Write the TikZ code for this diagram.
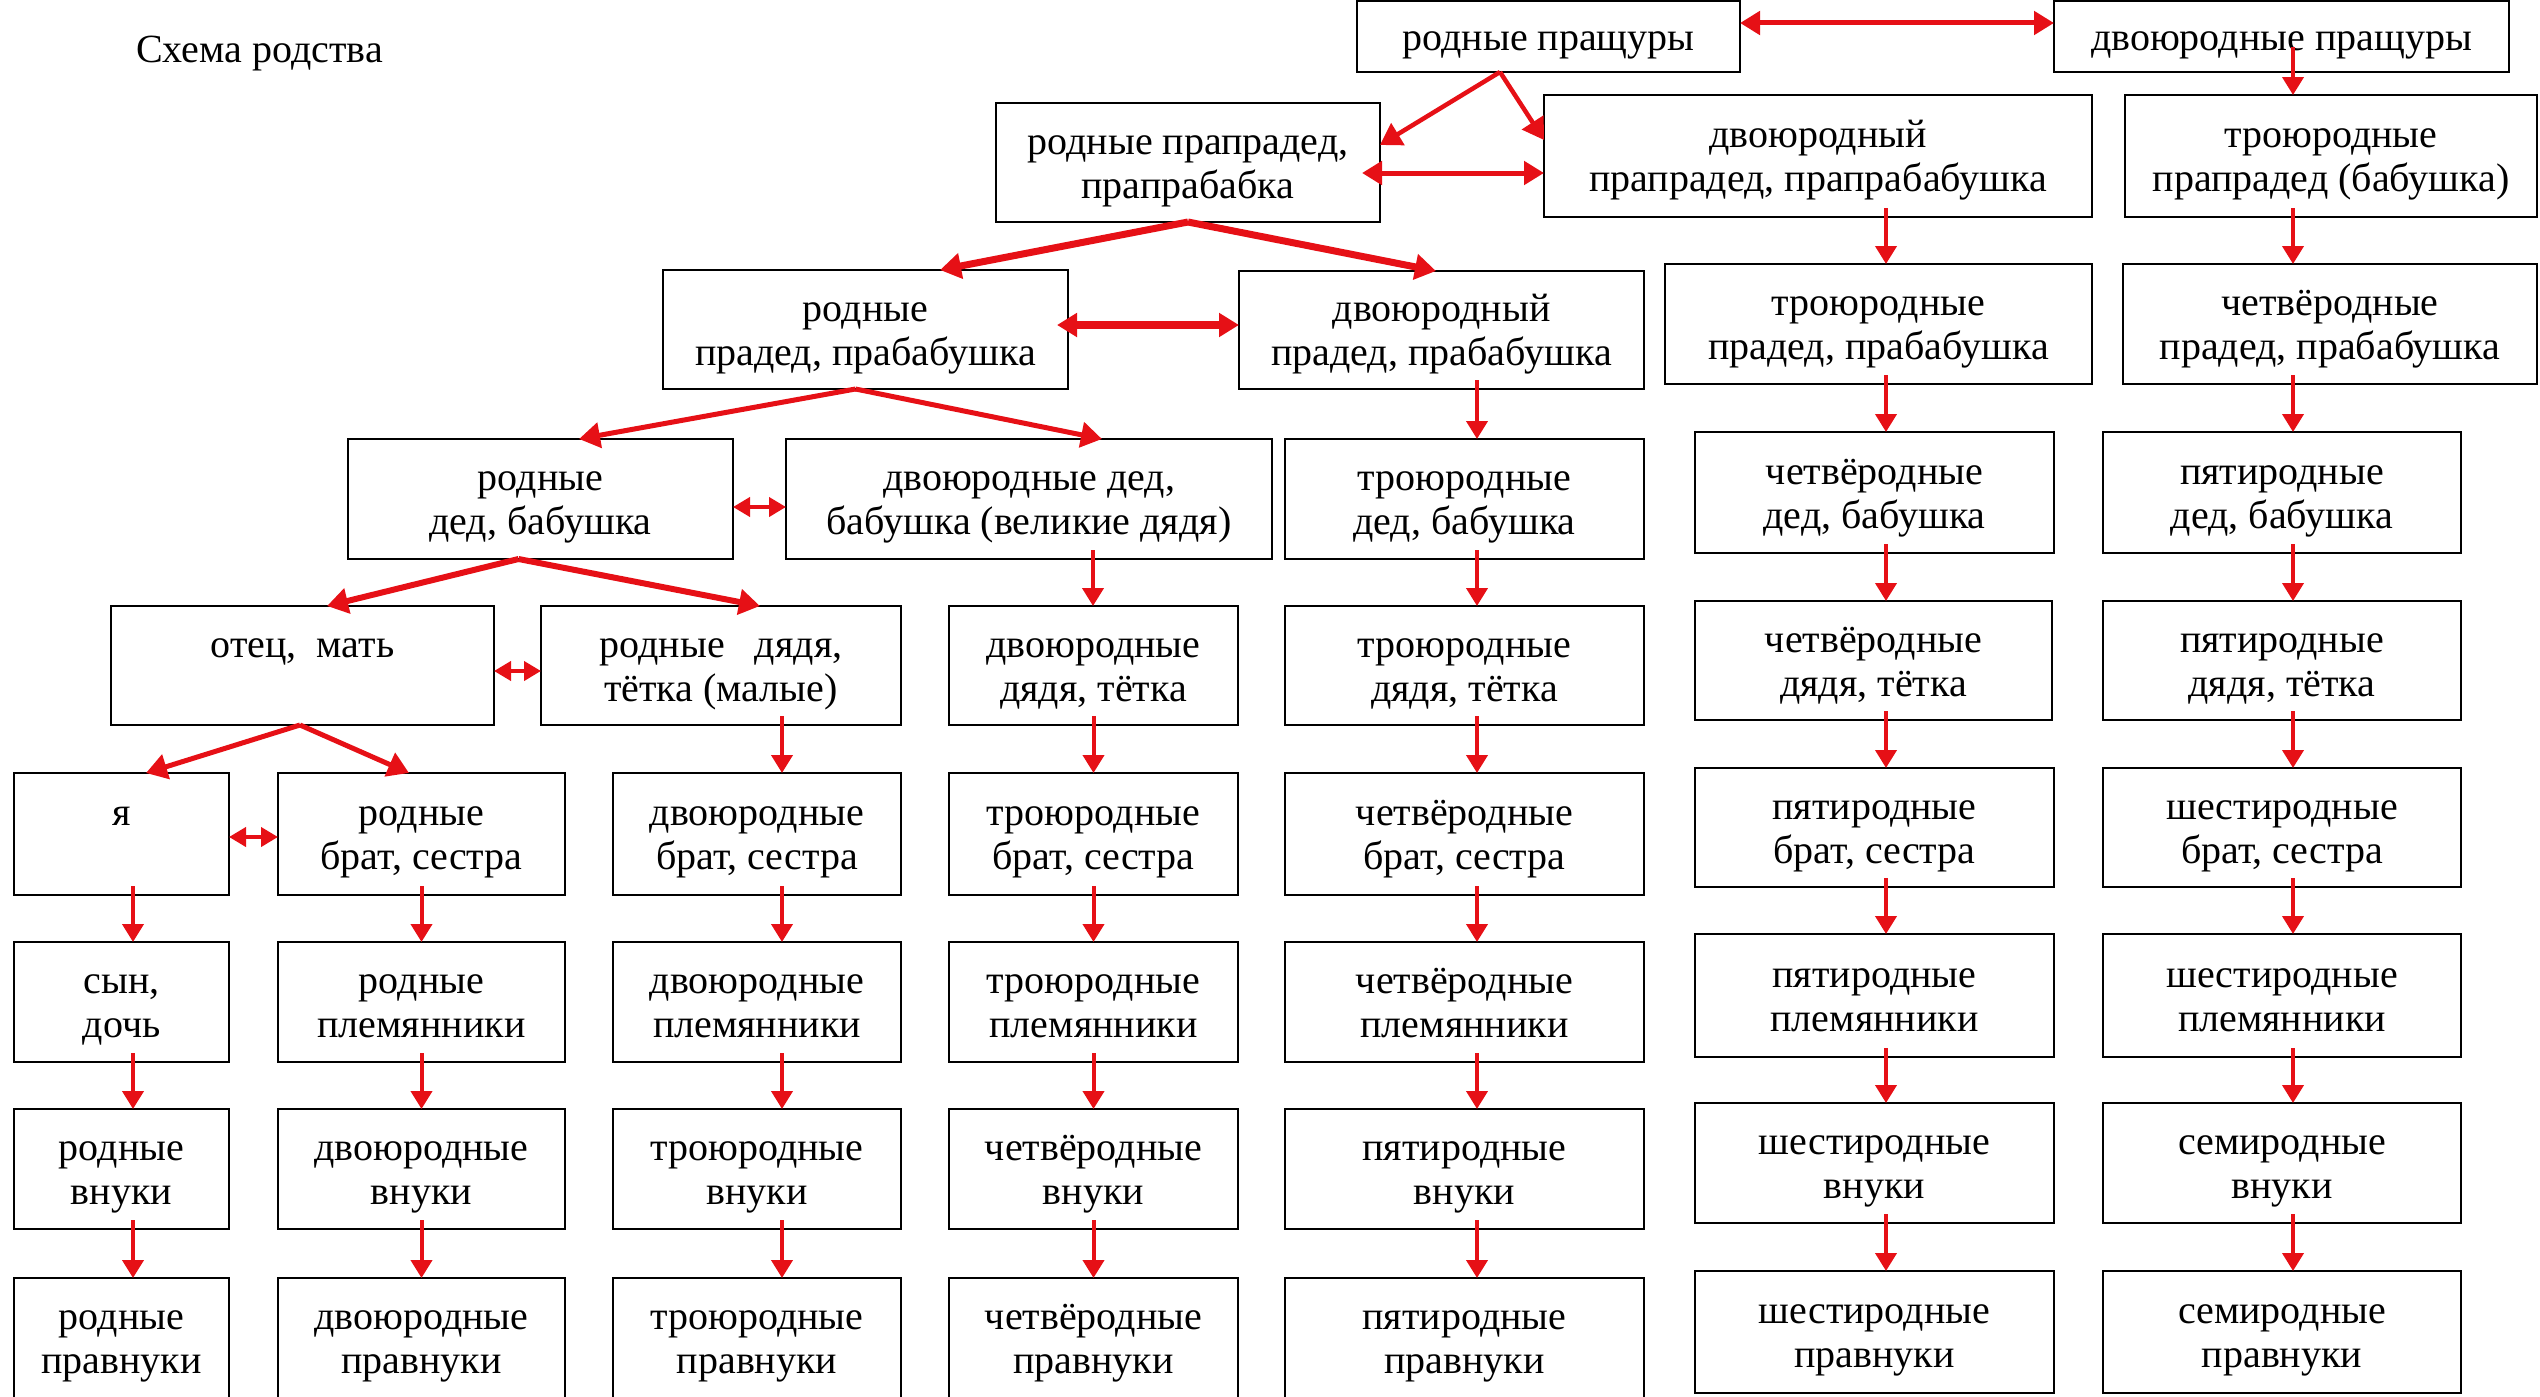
\documentclass[tikz,border=0pt]{standalone}
\usepackage{fontspec}
\setmainfont{Liberation Serif}
\usetikzlibrary{arrows.meta,calc}
\definecolor{arrred}{RGB}{230,16,22}
\tikzset{
  box/.style={draw=black, line width=2.5pt, rectangle, inner sep=0pt, outer sep=0pt},
  txt/.style={align=center, font=\fontsize{40}{44}\selectfont, inner sep=0pt, outer sep=0pt},
  varr/.style={draw=arrred, line width=4pt, shorten <=-9pt, -{Triangle[length=18pt,width=21pt]}},
  darr/.style={draw=arrred, line width=#1, -{Triangle[length=21pt,width=25pt]}},
  dbl/.style={draw=arrred, line width=#1, {Triangle[length=20pt,width=23pt]}-{Triangle[length=20pt,width=23pt]}},
  sdbl/.style={draw=arrred, line width=4pt, {Triangle[length=17pt,width=19pt]}-{Triangle[length=17pt,width=19pt]}}
}
\newcommand{\bx}[6]{%
  \node[box, anchor=north west, minimum width={#4pt-#2pt}, minimum height={#5pt-#3pt}] (#1) at (#2,#3) {};
  \node[txt] (#1t) at ([yshift=-5pt]#1.center) {#6};
}
\newcommand{\tl}[2]{\strut#1\\\strut#2}
\newcommand{\va}[3]{%
  \path ([xshift=#3pt]#1.south) coordinate (#1-#2-s);
  \draw[varr] (#1-#2-s) -- (#1-#2-s |- #2.north);
}
\begin{document}
\begin{tikzpicture}[x=1pt,y=-1pt]
\useasboundingbox (0,0) rectangle (2540,1397);
\node[txt, anchor=base west] (title) at (136,63) {Схема родства};

% row 0
\bx{p1}{1357}{1}{1740}{72}{\strut родные пращуры}
\bx{p2}{2054}{1}{2509}{72}{\strut двоюродные пращуры}
% row 1
\bx{pp1}{996}{103}{1380}{222}{\tl{родные прапрадед,}{прапрабабка}}
\bx{pp2}{1544}{95}{2092}{217}{\tl{двоюродный}{прапрадед, прапрабабушка}}
\bx{pp3}{2125}{95}{2537}{217}{\tl{троюродные}{прапрадед (бабушка)}}
% row 2
\bx{r2a}{663}{270}{1068}{389}{\tl{родные}{прадед, прабабушка}}
\bx{r2b}{1239}{271}{1644}{389}{\tl{двоюродный}{прадед, прабабушка}}
\bx{r2c}{1665}{264}{2092}{384}{\tl{троюродные}{прадед, прабабушка}}
\bx{r2d}{2123}{264}{2537}{384}{\tl{четвёродные}{прадед, прабабушка}}
% row 3
\bx{r3a}{348}{439}{733}{559}{\tl{родные}{дед, бабушка}}
\bx{r3b}{786}{439}{1272}{559}{\tl{двоюродные дед,}{бабушка (великие дядя)}}
\bx{r3c}{1285}{439}{1644}{559}{\tl{троюродные}{дед, бабушка}}
\bx{r3d}{1695}{432}{2054}{553}{\tl{четвёродные}{дед, бабушка}}
\bx{r3e}{2103}{432}{2461}{553}{\tl{пятиродные}{дед, бабушка}}
% row 4
\bx{r4a}{111}{606}{494}{725}{\tl{отец,\ \ мать}{}}
\bx{r4b}{541}{606}{901}{725}{\tl{родные\ \ \ дядя,}{тётка (малые)}}
\bx{r4c}{949}{606}{1238}{725}{\tl{двоюродные}{дядя, тётка}}
\bx{r4d}{1285}{606}{1644}{725}{\tl{троюродные}{дядя, тётка}}
\bx{r4e}{1695}{601}{2052}{720}{\tl{четвёродные}{дядя, тётка}}
\bx{r4f}{2103}{601}{2461}{720}{\tl{пятиродные}{дядя, тётка}}
% row 5
\bx{r5a}{14}{773}{229}{895}{\tl{я}{}}
\bx{r5b}{278}{773}{565}{895}{\tl{родные}{брат, сестра}}
\bx{r5c}{613}{773}{901}{895}{\tl{двоюродные}{брат, сестра}}
\bx{r5d}{949}{773}{1238}{895}{\tl{троюродные}{брат, сестра}}
\bx{r5e}{1285}{773}{1644}{895}{\tl{четвёродные}{брат, сестра}}
\bx{r5f}{1695}{768}{2054}{887}{\tl{пятиродные}{брат, сестра}}
\bx{r5g}{2103}{768}{2461}{887}{\tl{шестиродные}{брат, сестра}}
% row 6
\bx{r6a}{14}{942}{229}{1062}{\tl{сын,}{дочь}}
\bx{r6b}{278}{942}{565}{1062}{\tl{родные}{племянники}}
\bx{r6c}{613}{942}{901}{1062}{\tl{двоюродные}{племянники}}
\bx{r6d}{949}{942}{1238}{1062}{\tl{троюродные}{племянники}}
\bx{r6e}{1285}{942}{1644}{1062}{\tl{четвёродные}{племянники}}
\bx{r6f}{1695}{934}{2054}{1057}{\tl{пятиродные}{племянники}}
\bx{r6g}{2103}{934}{2461}{1057}{\tl{шестиродные}{племянники}}
% row 7
\bx{r7a}{14}{1109}{229}{1229}{\tl{родные}{внуки}}
\bx{r7b}{278}{1109}{565}{1229}{\tl{двоюродные}{внуки}}
\bx{r7c}{613}{1109}{901}{1229}{\tl{троюродные}{внуки}}
\bx{r7d}{949}{1109}{1238}{1229}{\tl{четвёродные}{внуки}}
\bx{r7e}{1285}{1109}{1644}{1229}{\tl{пятиродные}{внуки}}
\bx{r7f}{1695}{1103}{2054}{1223}{\tl{шестиродные}{внуки}}
\bx{r7g}{2103}{1103}{2461}{1223}{\tl{семиродные}{внуки}}
% row 8
\bx{r8a}{14}{1278}{229}{1398}{\tl{родные}{правнуки}}
\bx{r8b}{278}{1278}{565}{1398}{\tl{двоюродные}{правнуки}}
\bx{r8c}{613}{1278}{901}{1398}{\tl{троюродные}{правнуки}}
\bx{r8d}{949}{1278}{1238}{1398}{\tl{четвёродные}{правнуки}}
\bx{r8e}{1285}{1278}{1644}{1398}{\tl{пятиродные}{правнуки}}
\bx{r8f}{1695}{1271}{2054}{1393}{\tl{шестиродные}{правнуки}}
\bx{r8g}{2103}{1271}{2461}{1393}{\tl{семиродные}{правнуки}}

% ---- connectors ----
% top
\path ([yshift=13.5pt]p1.east) coordinate (c01);
\draw[dbl=5pt] (c01) -- (c01 -| p2.west);
\path ([xshift=11.5pt]p2.south) coordinate (c02);
\draw[varr, shorten <=-25pt] (c02) -- (c02 |- pp3.north);
\path ([xshift=-48.5pt]p1.south) coordinate (c03);
\draw[darr=4.5pt] (c03) -- ([yshift=17.5pt]pp1.east);
\draw[darr=4.5pt] (c03) -- ([yshift=16pt]pp2.west);
\path ([yshift=-10.5pt]pp1.east) coordinate (c04);
\draw[dbl=5pt, shorten <=-18pt] (c04) -- (c04 -| pp2.west);
% from pp1
\draw[darr=7pt] (pp1.south) -- ([xshift=74.5pt]r2a.north);
\draw[darr=7pt] (pp1.south) -- ([xshift=-5.5pt]r2b.north);
\path ([yshift=4.5pt]r2a.east) coordinate (c05);
\draw[dbl=8pt, shorten <=-11pt] (c05) -- (c05 -| r2b.west);
% from r2a
\path ([xshift=-10pt]r2a.south) coordinate (c06);
\draw[darr=5pt] (c06) -- ([xshift=38.5pt]r3a.north);
\draw[darr=5pt] (c06) -- ([xshift=73pt]r3b.north);
\path ([yshift=-8pt]r3a.east) coordinate (c07);
\draw[sdbl] (c07) -- (c07 -| r3b.west);
% from r3a
\path ([xshift=-22pt]r3a.south) coordinate (c08);
\draw[darr=6pt] (c08) -- ([xshift=24.5pt]r4a.north);
\draw[darr=6pt] (c08) -- ([xshift=39pt]r4b.north);
\path ([yshift=-5.5pt]r4a.east) coordinate (c09);
\draw[sdbl] (c09) -- (c09 -| r4b.west);
% from r4a
\path ([xshift=-2.5pt]r4a.south) coordinate (c10);
\draw[darr=5pt] (c10) -- ([xshift=24.5pt]r5a.north);
\draw[darr=5pt] (c10) -- ([xshift=-12.5pt]r5b.north);
\path ([yshift=-3pt]r5a.east) coordinate (c11);
\draw[sdbl] (c11) -- (c11 -| r5b.west);
% vertical chains
\va{pp2}{r2c}{68}
\va{pp3}{r2d}{-38}
\va{r2b}{r3c}{35.5}
\va{r2c}{r3d}{7.5}
\va{r2d}{r3e}{-37}
\va{r3b}{r4c}{64}
\va{r3c}{r4d}{12.5}
\va{r3d}{r4e}{11.5}
\va{r3e}{r4f}{11}
\va{r4b}{r5c}{61}
\va{r4c}{r5d}{0}
\va{r4d}{r5e}{12.5}
\va{r4e}{r5f}{12.5}
\va{r4f}{r5g}{11}
\foreach \c/\d in {a/11.5,b/0,c/25,d/0,e/12.5,f/11.5,g/11}{
  \va{r5\c}{r6\c}{\d}
  \va{r6\c}{r7\c}{\d}
  \va{r7\c}{r8\c}{\d}
}
\end{tikzpicture}
\end{document}
